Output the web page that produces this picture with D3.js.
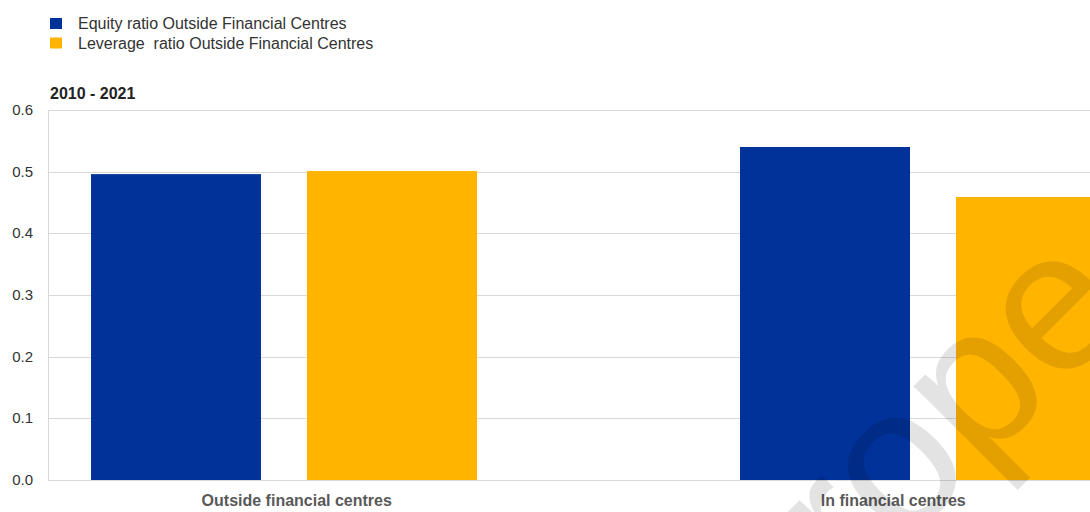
<!DOCTYPE html>
<html><head><meta charset="utf-8">
<script src="https://cdn.jsdelivr.net/npm/d3@7"></script>
<style>
html,body{margin:0;padding:0;background:#fff;overflow:hidden}
text{font-family:"Liberation Sans",Arial,sans-serif}
</style></head><body>
<svg id="c" width="1090" height="512"></svg>
<script>
const categories = ["Outside financial centres", "In financial centres"];
const seriesNames = ["Equity ratio Outside Financial Centres", "Leverage  ratio Outside Financial Centres"];
const equity = [0.496, 0.540];
const leverage = [0.501, 0.459];
const yTicks = [0.0, 0.1, 0.2, 0.3, 0.4, 0.5, 0.6];
const subtitle = "2010 - 2021";
const colors = ["#003299", "#ffb400"];

(function () {
const svg = d3.select("#c");
const plotLeft = 48, plotRight = 1090, plotTop = 110, plotBottom = 480;

const y = d3.scaleLinear().domain([0, 0.6]).range([plotBottom, plotTop]);
const x0 = d3.scaleBand().domain(categories).range([91, 1126]).paddingInner(0.4052).paddingOuter(0).align(0);
const x1 = d3.scaleBand().domain([0, 1]).range([0, x0.bandwidth()]).paddingInner(0.213).paddingOuter(0);
const xLabel = d3.scaleBand().domain(categories).range([-1.5, 1191.5]);

// gridlines
svg.append("g").selectAll("line").data(yTicks).join("line")
  .attr("x1", plotLeft).attr("x2", plotRight)
  .attr("y1", d => Math.round(y(d)) + 0.5).attr("y2", d => Math.round(y(d)) + 0.5)
  .attr("stroke", "#d9d9d9").attr("stroke-width", 1);
svg.append("line").attr("x1", plotLeft + 0.5).attr("x2", plotLeft + 0.5)
  .attr("y1", plotTop).attr("y2", plotBottom).attr("stroke", "#d9d9d9");

// y tick labels
svg.append("g").selectAll("text").data(yTicks).join("text")
  .attr("x", 33).attr("y", d => y(d) + 5)
  .attr("text-anchor", "end").attr("font-size", 15).attr("fill", "#333")
  .text(d => d.toFixed(1));

// bars
const series = [equity, leverage];
const g = svg.append("g");
categories.forEach((c, ci) => {
  series.forEach((s, si) => {
    g.append("rect")
      .attr("x", x0(c) + x1(si))
      .attr("y", y(s[ci]))
      .attr("width", x1.bandwidth())
      .attr("height", y(0) - y(s[ci]))
      .attr("fill", colors[si]);
  });
});

// category labels
svg.append("g").selectAll("text").data(categories).join("text")
  .attr("x", d => xLabel(d) + xLabel.bandwidth() / 2).attr("y", 506)
  .attr("text-anchor", "middle").attr("font-size", 16).attr("font-weight", "bold")
  .attr("fill", "#595959").text(d => d);

// subtitle
svg.append("text").attr("x", 50).attr("y", 99).attr("font-size", 16)
  .attr("font-weight", "bold").attr("fill", "#222").text(subtitle);

// legend
const lg = svg.append("g");
seriesNames.forEach((n, i) => {
  lg.append("rect").attr("x", 50).attr("y", 18 + i * 19.5).attr("width", 12).attr("height", 11).attr("fill", colors[i]);
  lg.append("text").attr("x", 78).attr("y", 29 + i * 19.5).attr("font-size", 16)
    .attr("fill", "#333").style("white-space", "pre").text(n);
});

// watermark
svg.append("text").attr("transform", "translate(1136,313) rotate(-45)")
  .attr("text-anchor", "end").attr("font-size", 200).attr("font-family", "Roboto, sans-serif")
  .attr("font-weight", 400).attr("fill", "#000").attr("fill-opacity", 0.11)
  .text("Europe");
})();
</script>
</body></html>
